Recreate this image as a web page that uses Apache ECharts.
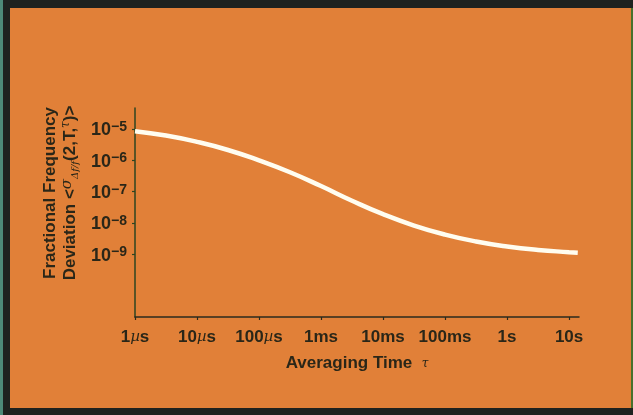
<!DOCTYPE html>
<html>
<head>
<meta charset="utf-8">
<script src="https://cdn.jsdelivr.net/npm/echarts@6/dist/echarts.min.js"></script>
<style>
html,body{margin:0;padding:0;background:#E18038;}
#chart{width:633px;height:415px;}
</style>
</head>
<body>
<div id="chart"></div>
<script>
// Averaging time tau (seconds)
const tauValues = [1e-6, 3.16e-6, 1e-5, 3.16e-5, 1e-4, 3.16e-4, 1e-3, 3.16e-3, 1e-2, 3.16e-2, 0.1, 0.316, 1, 3.16, 10, 13.8];
// Fractional frequency deviation
const deviationValues = [8.5e-6, 6.17e-6, 3.89e-6, 2.14e-6, 1.0e-6, 4.17e-7, 1.51e-7, 5.13e-8, 1.91e-8, 8.3e-9, 4.27e-9, 2.57e-9, 1.78e-9, 1.38e-9, 1.17e-9, 1.12e-9];
// Axis ticks and labels
const xTickValues = [1e-6, 1e-5, 1e-4, 1e-3, 1e-2, 1e-1, 1, 10];
const xTickLabels = ['{n|1}{mu|\u00b5}{n|s}', '{n|10}{mu|\u00b5}{n|s}', '{n|100}{mu|\u00b5}{n|s}', '{n|1ms}', '{n|10ms}', '{n|100ms}', '{n|1s}', '{n|10s}'];
const yTickValues = [1e-5, 1e-6, 1e-7, 1e-8, 1e-9];
const yTickExponents = ['\u22125', '\u22126', '\u22127', '\u22128', '\u22129'];

const FONT = '"Liberation Sans", Arial, sans-serif';
const TXT = '#2a2618';
const FRAME = '#1e221f';

const chart = echarts.init(document.getElementById('chart'), null, {renderer: 'canvas'});
chart.setOption({
  backgroundColor: '#E18038',
  animation: false,
  grid: {left: 135, right: 54, top: 108, bottom: 98, containLabel: false},
  xAxis: {
    type: 'log',
    logBase: 10,
    min: 1e-6,
    max: 14.45,
    name: '{t|Averaging Time}{g|  }{tau|\u03c4}',
    nameLocation: 'middle',
    nameGap: 38,
    nameTextStyle: {
      rich: {
        t: {fontFamily: FONT, fontSize: 17, fontWeight: 'bold', color: TXT},
        g: {fontFamily: FONT, fontSize: 17, color: TXT},
        tau: {fontFamily: 'DejaVu Serif, serif', fontSize: 12, fontStyle: 'italic', color: TXT}
      }
    },
    axisLine: {show: true, lineStyle: {color: '#2b2a1c', width: 1.5}},
    axisTick: {show: true, inside: false, length: 3, customValues: xTickValues, lineStyle: {color: '#2b2a1c', width: 1.2}},
    splitLine: {show: false},
    axisLabel: {
      margin: 12,
      customValues: xTickValues,
      formatter: function (v) {
        for (let i = 0; i < xTickValues.length; i++) {
          if (Math.abs(Math.log10(v) - Math.log10(xTickValues[i])) < 1e-6) return xTickLabels[i];
        }
        return '';
      },
      rich: {
        n: {fontFamily: FONT, fontSize: 17, fontWeight: 'bold', color: TXT},
        mu: {fontFamily: 'DejaVu Serif, serif', fontSize: 15, fontStyle: 'italic', color: TXT}
      }
    }
  },
  yAxis: {
    type: 'log',
    logBase: 10,
    min: 1e-11,
    max: 4.68e-5,
    axisLine: {show: true, lineStyle: {color: '#2c4420', width: 1.5}},
    axisTick: {show: true, inside: false, length: 3, customValues: yTickValues, lineStyle: {color: '#2c4420', width: 1.2}},
    splitLine: {show: false},
    axisLabel: {
      margin: 8,
      customValues: yTickValues,
      formatter: function (v) {
        for (let i = 0; i < yTickValues.length; i++) {
          if (Math.abs(Math.log10(v) - Math.log10(yTickValues[i])) < 1e-6) return '{b|10}{s|' + yTickExponents[i] + '}';
        }
        return '';
      },
      rich: {
        b: {fontFamily: FONT, fontSize: 18, fontWeight: 'bold', color: TXT, lineHeight: 18, padding: [3, 0, 0, 0]},
        s: {fontFamily: FONT, fontSize: 14, fontWeight: 'bold', color: TXT, verticalAlign: 'top', lineHeight: 14}
      }
    }
  },
  graphic: [
    {type: 'rect', shape: {x: 0, y: 0, width: 633, height: 8}, style: {fill: FRAME}, silent: true},
    {type: 'rect', shape: {x: 0, y: 408, width: 633, height: 7}, style: {fill: FRAME}, silent: true},
    {type: 'rect', shape: {x: 3, y: 0, width: 7, height: 415}, style: {fill: FRAME}, silent: true},
    {type: 'rect', shape: {x: 0, y: 0, width: 3, height: 415}, style: {fill: '#4d8a78'}, silent: true},
    {type: 'rect', shape: {x: 631, y: 8, width: 2, height: 400}, style: {fill: '#47702c'}, silent: true},
    {
      type: 'text',
      x: 60, y: 193,
      rotation: Math.PI / 2,
      silent: true,
      style: {
        text: '{a|Fractional Frequency}\n{a|Deviation <}{sig|\u03c3}{sub|\u0394f/f}{a|(2,T,}{tau|\u03c4}{a|)>}',
        align: 'center',
        verticalAlign: 'middle',
        rich: {
          a: {fontFamily: FONT, fontSize: 17, fontWeight: 'bold', fill: TXT, lineHeight: 20},
          sig: {fontFamily: 'DejaVu Serif, serif', fontSize: 15, fontStyle: 'italic', fill: TXT, verticalAlign: 'top', lineHeight: 14},
          sub: {fontFamily: 'DejaVu Serif, serif', fontSize: 10, fontStyle: 'italic', fill: TXT, verticalAlign: 'bottom', lineHeight: 12},
          tau: {fontFamily: 'DejaVu Serif, serif', fontSize: 12, fontStyle: 'italic', fill: TXT, verticalAlign: 'top', lineHeight: 12}
        }
      }
    }
  ],
  series: [{
    type: 'line',
    data: tauValues.map((t, i) => [t, deviationValues[i]]),
    smooth: true,
    showSymbol: false,
    symbol: 'none',
    lineStyle: {color: '#fffdf0', width: 4.5, cap: 'butt'}
  }]
});
</script>
</body>
</html>
